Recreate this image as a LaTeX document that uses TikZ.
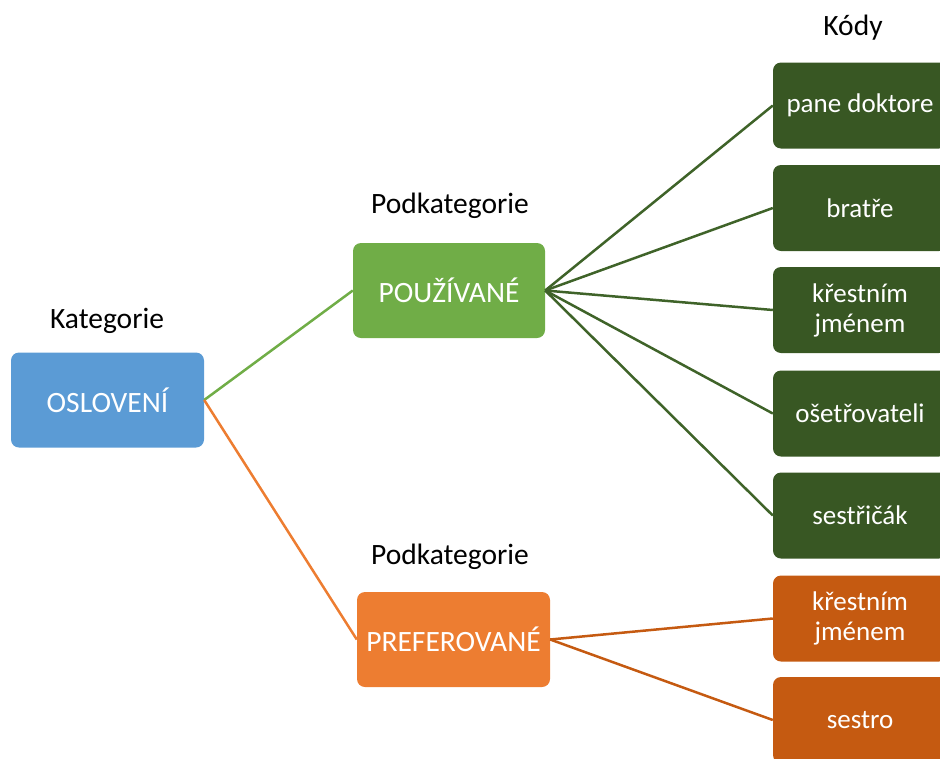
\documentclass[tikz,border=0pt]{standalone}
\usepackage{fontspec}
\setmainfont{Carlito}
\definecolor{cblue}{HTML}{5B9BD5}
\definecolor{cgreen}{HTML}{70AD47}
\definecolor{corange}{HTML}{ED7D31}
\definecolor{dgreen}{HTML}{385723}
\definecolor{dorange}{HTML}{C55A11}
\definecolor{lgreenline}{HTML}{3F6329}
\begin{document}
\begin{tikzpicture}[x=1pt,y=-1pt,
  box/.style={rounded corners=8pt, minimum width=193pt, minimum height=95pt, inner sep=0pt, text=white, align=center, font=\fontsize{29.5}{33}\selectfont},
  codebox/.style={rounded corners=8pt, minimum width=174pt, minimum height=86pt, inner sep=0pt, text=white, align=center, fill=dgreen, font=\fontsize{27}{30}\selectfont},
  obox/.style={codebox, fill=dorange},
  lbl/.style={text=black, inner sep=0pt, font=\fontsize{29.5}{33}\selectfont},
  link/.style={line width=2.5pt}]
\clip (0,0) rectangle (940,758);
\useasboundingbox (0,0) rectangle (940,758);

\node[box, fill=cblue] (osl) at (107.5,400) {OSLOVENÍ};
\node[box, fill=cgreen, minimum width=192pt] (pou) at (449,290.5) {POUŽÍVANÉ};
\node[box, fill=corange] (pre) at (453.5,639.5) {PREFEROVANÉ};

\node[lbl] (lkat) at (107,321) {Kategorie};
\node[lbl] (lpod1) at (450,206) {Podkategorie};
\node[lbl] (lpod2) at (450,557) {Podkategorie};
\node[lbl] (lkod) at (853,28) {Kódy};

\node[codebox] (c1) at (860,105.5) {pane doktore};
\node[codebox] (c2) at (860,208) {bratře};
\node[codebox] (c3) at (860,310) {křestním\\jménem};
\node[codebox] (c4) at (860,413.5) {ošetřovateli};
\node[codebox] (c5) at (860,515.5) {sestřičák};
\node[obox] (o1) at (860,618.5) {křestním\\jménem};
\node[obox] (o2) at (860,720) {sestro};

\draw[link, cgreen] (osl.east) -- (pou.west);
\draw[link, corange] (osl.east) -- (pre.west);
\foreach \c in {c1,c2,c3,c4,c5}
  \draw[link, lgreenline] (pou.east) -- (\c.west);
\foreach \c in {o1,o2}
  \draw[link, dorange] (pre.east) -- (\c.west);
\end{tikzpicture}
\end{document}
